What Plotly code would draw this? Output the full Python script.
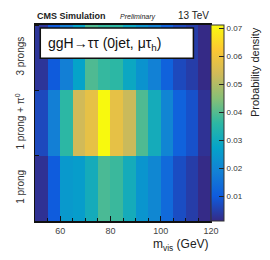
import plotly.graph_objects as go

mvis_centers = [52.5, 57.5, 62.5, 67.5, 72.5, 77.5, 82.5, 87.5, 92.5, 97.5, 102.5, 107.5, 112.5, 117.5]
decay_modes = ["1 prong", "1 prong + π<sup>0</sup>", "3 prongs"]

one_prong = [0.0024, 0.0100, 0.0250, 0.0260, 0.0310, 0.0390, 0.0375, 0.0310, 0.0240, 0.0205, 0.0135, 0.0073, 0.0045, 0.0012]
one_prong_pi0 = [0.0066, 0.0185, 0.0360, 0.0540, 0.0580, 0.0711, 0.0580, 0.0530, 0.0395, 0.0310, 0.0200, 0.0115, 0.0080, 0.0025]
three_prongs = [0.0030, 0.0098, 0.0185, 0.0275, 0.0395, 0.0370, 0.0360, 0.0290, 0.0235, 0.0190, 0.0115, 0.0066, 0.0045, 0.0011]

z = [one_prong, one_prong_pi0, three_prongs]

stops = [0.0, 0.125, 0.25, 0.375, 0.5, 0.625, 0.75, 0.875, 1.0]
red = [0.2082, 0.0592, 0.0780, 0.0232, 0.1802, 0.5301, 0.8186, 0.9956, 0.9764]
green = [0.1664, 0.3599, 0.5041, 0.6419, 0.7178, 0.7492, 0.7328, 0.7862, 0.9832]
blue = [0.5293, 0.8684, 0.8385, 0.7914, 0.6425, 0.4662, 0.3499, 0.1968, 0.0539]
bird = [[s, f"rgb({int(r*255)},{int(g*255)},{int(b*255)})"] for s, r, g, b in zip(stops, red, green, blue)]

FONT = "Liberation Sans, Arial, sans-serif"

fig = go.Figure(go.Heatmap(
    x=mvis_centers, y=[0, 1, 2], z=z,
    colorscale=bird, zmin=0.0011, zmax=0.0713,
    colorbar=dict(
        thickness=13, thicknessmode="pixels", len=1, lenmode="fraction",
        x=1.0, xanchor="left", xpad=0, ypad=0, y=0.5, yanchor="middle",
        outlinewidth=1, outlinecolor="#333",
        tickvals=[0.01, 0.02, 0.03, 0.04, 0.05, 0.06, 0.07],
        ticktext=["0.01", "0.02", "0.03", "0.04", "0.05", "0.06", "0.07"],
        ticks="inside", ticklen=5, tickcolor="#222",
        tickfont=dict(size=8, color="#333", family=FONT),
    ),
))

# page body has an 8px margin, so the figure is sized to 262x252 and offset accordingly
fig.update_layout(
    width=262, height=252,
    margin=dict(l=27, r=59, t=17, b=39, autoexpand=False),
    paper_bgcolor="white", plot_bgcolor="white",
    font=dict(family=FONT),
    showlegend=False,
)
fig.update_xaxes(
    range=[50, 120], tickvals=[60, 80, 100, 120], automargin=False,
    ticks="inside", ticklen=5, tickcolor="#111",
    minor=dict(tick0=50, dtick=5, ticks="inside", ticklen=3, tickcolor="#111"),
    showline=True, linecolor="#111", linewidth=1.5, mirror=True,
    showgrid=False, zeroline=False,
    tickfont=dict(size=9, color="#444", family=FONT),
)
fig.update_yaxes(
    range=[-0.5, 2.5], tickvals=[0, 1, 2], ticktext=decay_modes, automargin=False,
    tickangle=-90, ticks="", ticklen=0, ticklabelstandoff=6,
    minor=dict(tick0=0.5, dtick=1, ticks="inside", ticklen=4, tickcolor="#111"),
    showline=True, linecolor="#111", linewidth=1, mirror=True,
    showgrid=False, zeroline=False,
    tickfont=dict(size=10, color="#333", family=FONT),
)

# label box
fig.add_shape(type="rect", xref="paper", yref="paper",
              x0=0.03, x1=0.90, y0=0.83, y1=0.985,
              fillcolor="white", line=dict(color="#111", width=1.5), layer="above")
fig.add_annotation(xref="paper", yref="paper", x=0.06, y=0.905, xanchor="left", yanchor="middle",
                   text="ggH→ττ (0jet, μτ<sub>h</sub>)", showarrow=False,
                   font=dict(size=14, color="#111", family=FONT))

fig.add_annotation(xref="paper", yref="paper", x=0.0, y=1.0, xanchor="left", yanchor="bottom",
                   yshift=2, text="<b>CMS Simulation</b>", showarrow=False,
                   font=dict(size=9, color="#222", family=FONT))
fig.add_annotation(xref="paper", yref="paper", x=0.47, y=1.0, xanchor="left", yanchor="bottom",
                   yshift=2, text="<i>Preliminary</i>", showarrow=False,
                   font=dict(size=7, color="#222", family=FONT))
fig.add_annotation(xref="paper", yref="paper", x=1.0, y=1.0, xanchor="right", yanchor="bottom",
                   yshift=2, text="13 TeV", showarrow=False,
                   font=dict(size=10, color="#222", family=FONT))
fig.add_annotation(xref="paper", yref="paper", x=1.0, y=0.0, xanchor="right", yanchor="top",
                   yshift=-14, text="m<sub>vis</sub> (GeV)", showarrow=False,
                   font=dict(size=12, color="#222", family=FONT))
fig.add_annotation(xref="paper", yref="paper", x=1.25, y=1.0, xanchor="center", yanchor="top",
                   text="Probability density", textangle=-90, showarrow=False,
                   font=dict(size=11, color="#222", family=FONT))

fig.write_html("out.html")
